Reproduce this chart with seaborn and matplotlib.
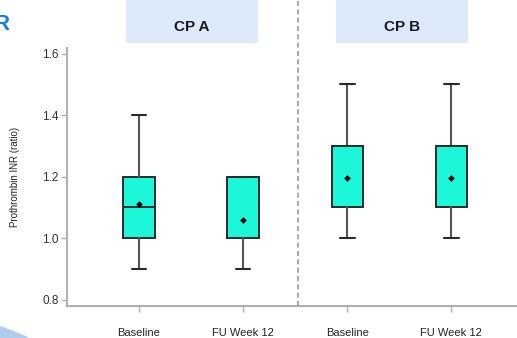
import matplotlib
matplotlib.use("Agg")
import matplotlib.pyplot as plt
from matplotlib.patches import Rectangle, Polygon
import seaborn as sns
import pandas as pd

sns.set_style("white")
plt.rcParams["font.family"] = ["Liberation Sans", "DejaVu Sans"]

# Summary statistics per group (INR ratio)
groups = ["CP A", "CP A", "CP B", "CP B"]
visits = ["Baseline", "FU Week 12", "Baseline", "FU Week 12"]
whisker_low = [0.9, 0.9, 1.0, 1.0]
q1 = [1.0, 1.0, 1.1, 1.1]
median = [1.1, 1.2, 1.3, 1.3]
q3 = [1.2, 1.2, 1.3, 1.3]
whisker_high = [1.4, 1.2, 1.5, 1.5]
mean = [1.11, 1.06, 1.195, 1.195]

panel_titles = ["CP A", "CP B"]
y_ticks = [0.8, 1.0, 1.2, 1.4, 1.6]

box_color = "#1DF7D9"
edge_color = "#2a2a2a"
spine_color = "#b0b0b0"

fig = plt.figure(figsize=(5.17, 3.38), dpi=100)
ax = fig.add_axes([67 / 517, 1 - 306 / 338, 1 - 67 / 517, (306 - 48) / 338])

positions = list(range(len(visits)))
stats = []
for i in positions:
    stats.append(dict(whislo=whisker_low[i], q1=q1[i], med=median[i],
                      q3=q3[i], whishi=whisker_high[i], fliers=[]))

ax.bxp(stats, positions=positions, widths=0.30, capwidths=0.14,
       patch_artist=True, showfliers=False,
       boxprops=dict(facecolor=box_color, edgecolor=edge_color, linewidth=1.4),
       medianprops=dict(color=edge_color, linewidth=1.4),
       whiskerprops=dict(color="#555555", linewidth=1.5),
       capprops=dict(color=edge_color, linewidth=1.5))

means = pd.DataFrame({"x": positions, "mean": mean})
sns.scatterplot(data=means, x="x", y="mean", ax=ax, marker="D", s=10,
                color="black", edgecolor="black", zorder=5, legend=False)

ax.set_xlim(-0.69, 3.63)
ax.set_ylim(0.78, 1.618)
ax.set_yticks(y_ticks)
ax.set_yticklabels([f"{v:.1f}" for v in y_ticks])
ax.set_xticks(positions)
ax.set_xticklabels(visits)
ax.set_xlabel("")
ax.set_ylabel("Prothrombin INR (ratio)", fontsize=7, color="#222222", labelpad=16)

for side in ["top", "right"]:
    ax.spines[side].set_visible(False)
for side in ["left", "bottom"]:
    ax.spines[side].set_color(spine_color)
    ax.spines[side].set_linewidth(1.5)
ax.tick_params(axis="y", length=4, width=1, color=spine_color, labelsize=8.5,
               labelcolor="#333333", pad=2, left=True)
ax.tick_params(axis="x", length=4, width=1, color=spine_color, labelsize=8,
               labelcolor="#222222", pad=12, bottom=True)

# dashed separator between the two Child-Pugh panels
ax.axvline(1.525, ymin=0, ymax=306 / 258, color="#9a9a9a", linestyle=(0, (3, 2)),
           linewidth=1.2, clip_on=False)

# panel header boxes
for title, x0 in zip(panel_titles, [126, 336]):
    fig.patches.append(Rectangle((x0 / 517, 1 - 43 / 338), 132 / 517, 43 / 338,
                                 transform=fig.transFigure, facecolor="#DCEAFB",
                                 edgecolor="none", zorder=0))
    fig.text((x0 + 66) / 517, 1 - 27 / 338, title, ha="center", va="center",
             fontsize=11, fontweight="bold", color="#1a1a1a")

# panel letter and decorative swoosh at the edge
fig.text(-0.012, 1 - 24 / 338, "R", ha="left", va="center", fontsize=16,
         fontweight="bold", color="#1E7FD6")
fig.patches.append(Polygon([(0, 0), (0, 12 / 338), (14 / 517, 7 / 338),
                            (30 / 517, 0)], closed=True,
                           transform=fig.transFigure, facecolor="#9CC0EC",
                           edgecolor="none", alpha=0.8))

fig.savefig("out.png", dpi=100)
